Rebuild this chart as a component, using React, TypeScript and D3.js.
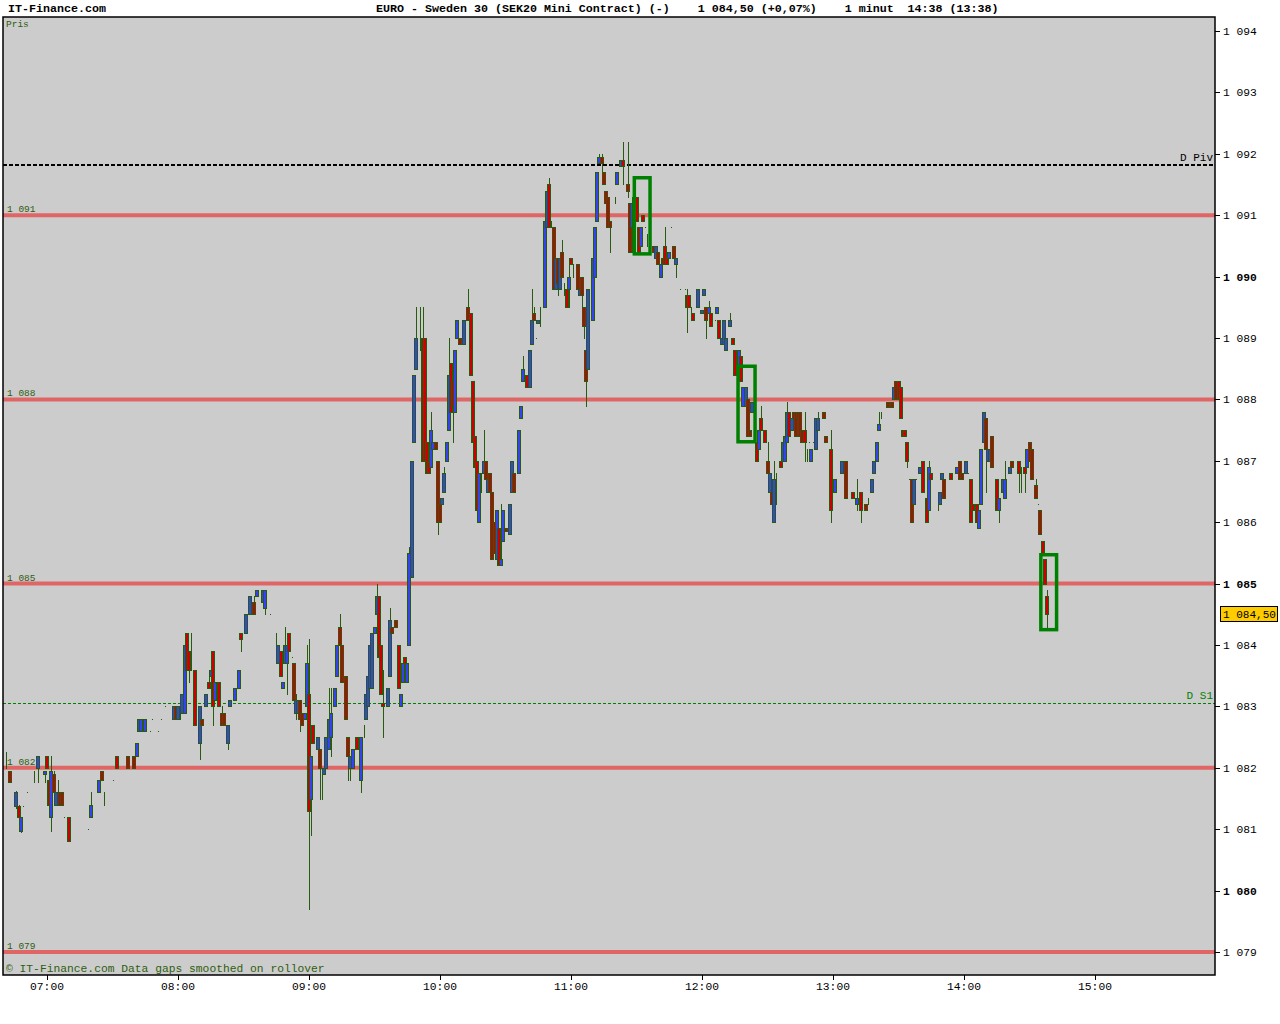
import React from 'react';
import * as d3 from 'd3';

// [minute after 07:00, open, high, low, close]
const candles: [number, number, number, number, number][] = [
  [-19, 1082.2, 1082.25, 1082.0, 1082.2], [-17, 1081.95, 1081.95, 1081.77, 1081.77],
  [-14, 1081.38, 1081.62, 1081.35, 1081.6], [-13, 1081.38, 1081.4, 1081.2, 1081.2],
  [-12, 1080.97, 1081.2, 1080.95, 1081.2], [-11, 1081.38, 1081.38, 1081.38, 1081.38],
  [-9, 1081.6, 1081.6, 1081.6, 1081.6], [-6, 1081.77, 1081.95, 1081.77, 1081.77],
  [-4, 1082.0, 1082.2, 1081.77, 1082.2], [-1, 1081.9, 1081.95, 1081.77, 1081.95],
  [0, 1082.2, 1082.2, 1082.0, 1082.0], [1, 1081.8, 1081.8, 1081.4, 1081.4],
  [2, 1081.2, 1082.2, 1080.97, 1081.95], [3, 1081.9, 1081.95, 1081.6, 1081.6],
  [4, 1081.4, 1081.6, 1081.4, 1081.6], [5, 1081.7, 1081.8, 1081.6, 1081.7],
  [6, 1081.6, 1081.6, 1081.4, 1081.4], [7, 1081.6, 1081.6, 1081.4, 1081.4],
  [8, 1081.2, 1081.2, 1081.2, 1081.2], [10, 1081.2, 1081.2, 1080.8, 1080.8],
  [19, 1081.0, 1081.0, 1081.0, 1081.0], [20, 1081.2, 1081.6, 1081.2, 1081.4],
  [24, 1081.6, 1081.8, 1081.6, 1081.8], [25, 1081.95, 1081.95, 1081.8, 1081.8],
  [26, 1081.5, 1081.6, 1081.4, 1081.5], [30, 1081.8, 1081.8, 1081.8, 1081.8],
  [32, 1082.2, 1082.2, 1082.0, 1082.0], [37, 1082.2, 1082.2, 1082.0, 1082.0],
  [40, 1082.2, 1082.2, 1082.0, 1082.0], [41, 1082.2, 1082.4, 1082.2, 1082.4],
  [42, 1082.6, 1082.8, 1082.6, 1082.8], [43, 1082.6, 1082.8, 1082.6, 1082.8],
  [45, 1082.6, 1082.8, 1082.6, 1082.8], [47, 1082.6, 1082.6, 1082.6, 1082.6],
  [48, 1082.8, 1082.8, 1082.8, 1082.8], [51, 1082.6, 1082.6, 1082.6, 1082.6],
  [52, 1082.8, 1082.8, 1082.8, 1082.8], [54, 1083.0, 1083.0, 1083.0, 1083.0],
  [58, 1082.8, 1083.0, 1082.8, 1083.0], [59, 1083.0, 1083.0, 1082.8, 1082.8],
  [60, 1082.8, 1083.0, 1082.8, 1083.0], [61, 1083.0, 1083.2, 1082.8, 1083.0],
  [62, 1082.9, 1083.2, 1082.9, 1083.2], [63, 1082.9, 1084.0, 1082.9, 1084.0],
  [64, 1084.2, 1084.2, 1083.6, 1083.6], [65, 1083.9, 1083.9, 1083.4, 1083.6],
  [66, 1083.9, 1084.2, 1083.6, 1083.9], [68, 1083.6, 1083.6, 1082.7, 1082.7],
  [69, 1082.6, 1082.7, 1082.4, 1082.6], [70, 1082.4, 1083.0, 1082.15, 1083.0],
  [71, 1082.8, 1082.8, 1082.7, 1082.7], [73, 1083.0, 1083.2, 1083.0, 1083.2],
  [74, 1083.4, 1083.5, 1083.3, 1083.3], [75, 1083.5, 1083.6, 1083.5, 1083.6],
  [76, 1083.9, 1083.9, 1082.7, 1083.0], [77, 1083.1, 1083.4, 1083.1, 1083.4],
  [79, 1083.4, 1083.4, 1083.0, 1083.0], [80, 1082.9, 1083.0, 1082.7, 1082.7],
  [81, 1082.9, 1082.9, 1082.7, 1082.7], [83, 1082.4, 1082.7, 1082.3, 1082.7],
  [84, 1083.0, 1083.1, 1083.0, 1083.1], [86, 1083.1, 1083.3, 1083.1, 1083.3],
  [88, 1083.3, 1083.6, 1083.3, 1083.6], [89, 1084.2, 1084.2, 1083.9, 1084.1],
  [91, 1084.2, 1084.5, 1084.2, 1084.5], [93, 1084.5, 1084.8, 1084.5, 1084.8],
  [95, 1084.7, 1084.8, 1084.5, 1084.5], [96, 1084.8, 1084.9, 1084.8, 1084.9],
  [99, 1084.7, 1084.9, 1084.7, 1084.9], [100, 1084.6, 1084.9, 1084.5, 1084.9],
  [102, 1084.5, 1084.5, 1084.5, 1084.5], [105, 1084.0, 1084.2, 1083.9, 1084.0],
  [106, 1083.7, 1084.0, 1083.7, 1084.0], [107, 1083.9, 1083.9, 1083.5, 1083.5],
  [108, 1083.3, 1083.4, 1083.3, 1083.4], [109, 1083.7, 1084.3, 1083.7, 1084.0],
  [110, 1083.7, 1084.0, 1083.2, 1084.0], [111, 1084.2, 1084.2, 1083.9, 1083.9],
  [112, 1083.8, 1083.8, 1083.8, 1083.8], [113, 1083.7, 1083.7, 1083.1, 1083.1],
  [114, 1082.9, 1083.2, 1082.8, 1083.1], [115, 1082.9, 1083.1, 1082.9, 1083.1],
  [116, 1083.1, 1083.1, 1082.6, 1082.8], [117, 1082.9, 1082.9, 1082.7, 1082.7],
  [118, 1082.8, 1082.9, 1082.8, 1082.9], [119, 1083.0, 1084.0, 1083.0, 1083.7],
  [120, 1083.2, 1084.1, 1079.7, 1081.3], [121, 1081.5, 1082.2, 1080.9, 1082.2],
  [122, 1082.7, 1082.7, 1082.4, 1082.4], [124, 1082.3, 1082.5, 1082.3, 1082.5],
  [125, 1082.3, 1082.3, 1081.5, 1082.0], [126, 1081.9, 1082.0, 1081.5, 1081.9],
  [127, 1081.9, 1082.0, 1081.9, 1082.0], [128, 1082.0, 1082.5, 1082.0, 1082.5],
  [129, 1082.3, 1083.3, 1082.3, 1082.8], [130, 1082.5, 1083.3, 1082.2, 1082.9],
  [132, 1083.0, 1083.3, 1083.0, 1083.3], [133, 1083.5, 1084.0, 1083.5, 1084.0],
  [134, 1084.3, 1084.5, 1084.0, 1084.0], [135, 1084.0, 1084.0, 1083.4, 1083.4],
  [137, 1083.5, 1083.5, 1082.8, 1082.8], [138, 1082.5, 1082.5, 1081.8, 1082.2],
  [139, 1082.0, 1082.2, 1081.8, 1082.2], [140, 1082.0, 1082.3, 1082.0, 1082.3],
  [142, 1082.5, 1082.5, 1082.3, 1082.3], [144, 1081.8, 1082.5, 1081.6, 1082.5],
  [145, 1082.6, 1082.7, 1082.5, 1082.6], [146, 1082.8, 1083.2, 1082.8, 1083.2],
  [147, 1083.0, 1083.5, 1083.0, 1083.5], [148, 1083.3, 1084.0, 1083.3, 1084.0],
  [149, 1083.3, 1084.2, 1083.3, 1084.2], [150, 1084.2, 1084.3, 1084.2, 1084.3],
  [151, 1084.5, 1085.0, 1084.5, 1084.8], [152, 1084.8, 1084.8, 1083.8, 1083.8],
  [153, 1084.0, 1084.0, 1083.2, 1083.2], [154, 1083.05, 1083.6, 1082.5, 1083.0],
  [156, 1083.0, 1083.3, 1083.0, 1083.3], [157, 1083.5, 1084.6, 1083.5, 1084.4],
  [158, 1084.3, 1084.3, 1084.2, 1084.2], [160, 1084.4, 1084.4, 1084.3, 1084.3],
  [161, 1084.0, 1084.0, 1083.3, 1083.3], [162, 1083.0, 1083.2, 1083.0, 1083.2],
  [163, 1083.4, 1083.7, 1083.4, 1083.7], [164, 1083.8, 1083.8, 1083.7, 1083.7],
  [165, 1083.4, 1083.7, 1083.4, 1083.7], [166, 1084.0, 1085.6, 1084.0, 1085.5],
  [167, 1085.1, 1087.0, 1085.1, 1087.0], [168, 1087.3, 1088.4, 1087.3, 1088.4],
  [169, 1088.5, 1089.5, 1088.5, 1089.0], [171, 1089.2, 1089.5, 1088.8, 1089.2],
  [172, 1089.0, 1089.5, 1087.0, 1087.0], [173, 1089.0, 1089.0, 1087.0, 1087.0],
  [174, 1087.3, 1087.3, 1086.8, 1086.8], [175, 1087.0, 1087.0, 1086.8, 1086.8],
  [176, 1086.9, 1087.8, 1086.9, 1087.5], [177, 1087.2, 1087.3, 1087.2, 1087.3],
  [178, 1087.3, 1087.3, 1087.2, 1087.2], [179, 1087.0, 1087.0, 1085.8, 1086.0],
  [180, 1086.3, 1086.3, 1086.0, 1086.0], [181, 1086.3, 1086.4, 1086.3, 1086.4],
  [182, 1086.5, 1086.9, 1086.5, 1086.8], [183, 1087.0, 1087.3, 1087.0, 1087.3],
  [184, 1087.5, 1089.0, 1087.5, 1088.4], [185, 1088.6, 1088.6, 1087.8, 1087.8],
  [186, 1088.3, 1088.3, 1087.3, 1087.9], [187, 1087.8, 1088.8, 1087.8, 1088.8],
  [188, 1089.0, 1089.3, 1089.0, 1089.3], [189, 1089.0, 1089.0, 1088.9, 1088.9],
  [191, 1088.9, 1089.3, 1088.9, 1089.3], [193, 1089.5, 1089.8, 1089.3, 1089.3],
  [194, 1089.4, 1089.4, 1088.4, 1088.4], [195, 1088.3, 1088.3, 1087.3, 1087.3],
  [196, 1087.4, 1087.4, 1086.6, 1086.9], [197, 1087.0, 1087.0, 1086.2, 1086.2],
  [198, 1086.0, 1086.8, 1086.0, 1086.8], [199, 1086.7, 1086.8, 1086.5, 1086.7],
  [200, 1086.8, 1087.5, 1086.8, 1087.0], [201, 1087.0, 1087.0, 1086.7, 1086.7],
  [202, 1086.5, 1086.7, 1086.5, 1086.7], [203, 1086.8, 1086.8, 1086.5, 1086.5],
  [204, 1086.5, 1086.5, 1085.4, 1085.4], [205, 1086.0, 1086.0, 1085.5, 1085.5],
  [206, 1085.4, 1086.2, 1085.4, 1086.2], [207, 1085.9, 1085.9, 1085.3, 1085.3],
  [208, 1085.3, 1086.3, 1085.3, 1085.4], [209, 1085.7, 1086.2, 1085.7, 1086.2],
  [210, 1085.9, 1085.9, 1085.85, 1085.85], [212, 1085.8, 1086.3, 1085.8, 1086.3],
  [213, 1086.5, 1087.0, 1086.5, 1087.0], [214, 1086.8, 1086.8, 1086.5, 1086.5],
  [216, 1086.8, 1087.5, 1086.8, 1087.5], [217, 1087.7, 1087.9, 1087.7, 1087.9],
  [218, 1088.3, 1088.7, 1088.3, 1088.5], [220, 1088.4, 1088.4, 1088.2, 1088.2],
  [221, 1088.2, 1088.8, 1088.2, 1088.8], [222, 1088.9, 1089.8, 1088.9, 1089.3],
  [223, 1089.4, 1089.5, 1089.3, 1089.3], [224, 1089.0, 1089.0, 1089.0, 1089.0],
  [225, 1089.25, 1089.3, 1089.25, 1089.3], [226, 1089.3, 1089.5, 1089.2, 1089.3],
  [228, 1089.5, 1090.9, 1089.5, 1090.9], [229, 1090.8, 1091.4, 1090.8, 1091.4],
  [230, 1091.5, 1091.6, 1090.8, 1090.8], [231, 1090.85, 1090.9, 1090.8, 1090.85],
  [232, 1090.8, 1090.8, 1089.8, 1089.8], [233, 1089.8, 1090.3, 1089.8, 1090.3],
  [234, 1090.3, 1090.3, 1089.7, 1089.9], [235, 1089.8, 1090.3, 1089.8, 1090.3],
  [236, 1090.4, 1090.6, 1090.0, 1090.0], [237, 1089.8, 1089.9, 1089.7, 1089.8],
  [238, 1089.8, 1089.8, 1089.5, 1089.5], [239, 1089.8, 1090.2, 1089.5, 1090.0],
  [240, 1090.3, 1090.3, 1090.2, 1090.2], [241, 1090.1, 1090.2, 1090.0, 1090.1],
  [243, 1090.2, 1090.2, 1089.8, 1089.8], [244, 1089.7, 1089.8, 1089.7, 1089.8],
  [245, 1090.0, 1090.0, 1089.5, 1089.7], [246, 1089.5, 1089.5, 1089.0, 1089.2],
  [247, 1088.8, 1088.8, 1087.9, 1088.3], [248, 1088.5, 1089.8, 1088.5, 1089.8],
  [250, 1089.3, 1090.3, 1089.3, 1090.3], [251, 1090.0, 1090.8, 1090.0, 1090.8],
  [252, 1090.9, 1091.7, 1090.9, 1091.7], [253, 1091.85, 1092.0, 1091.85, 1091.95],
  [254, 1091.95, 1092.0, 1091.5, 1091.85], [255, 1091.7, 1091.7, 1091.5, 1091.5],
  [256, 1091.4, 1091.4, 1091.2, 1091.2], [257, 1091.3, 1091.3, 1090.8, 1090.8],
  [258, 1090.9, 1090.9, 1090.4, 1090.8], [260, 1091.3, 1091.3, 1091.2, 1091.3],
  [261, 1091.5, 1091.7, 1091.5, 1091.7], [263, 1091.8, 1091.9, 1091.8, 1091.9],
  [264, 1091.9, 1092.2, 1091.5, 1091.8], [266, 1091.5, 1092.2, 1091.3, 1091.4],
  [267, 1091.2, 1091.2, 1090.4, 1090.4], [268, 1090.8, 1091.2, 1090.8, 1091.2],
  [269, 1090.4, 1091.3, 1090.4, 1091.3], [270, 1091.3, 1091.3, 1090.9, 1090.9],
  [271, 1090.8, 1090.8, 1090.4, 1090.4], [272, 1090.5, 1090.8, 1090.5, 1090.8],
  [273, 1091.0, 1091.0, 1090.9, 1090.9], [274, 1090.8, 1090.8, 1090.8, 1090.8],
  [275, 1090.6, 1090.7, 1090.5, 1090.6], [278, 1090.5, 1090.5, 1090.4, 1090.4],
  [279, 1090.3, 1090.5, 1090.3, 1090.5], [280, 1090.4, 1090.4, 1090.2, 1090.2],
  [281, 1090.0, 1090.2, 1090.0, 1090.2], [282, 1090.3, 1090.3, 1090.2, 1090.2],
  [283, 1090.5, 1090.8, 1090.2, 1090.2], [284, 1090.3, 1090.3, 1090.2, 1090.2],
  [285, 1090.3, 1090.4, 1090.3, 1090.4], [286, 1090.8, 1090.8, 1090.8, 1090.8],
  [287, 1090.5, 1090.5, 1090.3, 1090.3], [288, 1090.2, 1090.3, 1090.0, 1090.3],
  [290, 1089.8, 1089.8, 1089.8, 1089.8], [292, 1089.8, 1089.8, 1089.8, 1089.8],
  [293, 1089.7, 1089.8, 1089.1, 1089.5], [294, 1089.7, 1089.7, 1089.5, 1089.5],
  [295, 1089.4, 1089.5, 1089.3, 1089.4], [296, 1089.4, 1089.4, 1089.3, 1089.3],
  [298, 1089.5, 1089.8, 1089.5, 1089.8], [300, 1089.4, 1089.45, 1089.4, 1089.45],
  [301, 1089.7, 1089.8, 1089.7, 1089.8], [302, 1089.5, 1089.5, 1089.0, 1089.3],
  [303, 1089.4, 1089.6, 1089.4, 1089.5], [304, 1089.4, 1089.4, 1089.2, 1089.2],
  [306, 1089.3, 1089.3, 1089.3, 1089.3], [307, 1089.4, 1089.5, 1089.4, 1089.5],
  [308, 1089.3, 1089.3, 1089.0, 1089.0], [309, 1088.9, 1089.0, 1088.9, 1089.0],
  [310, 1088.9, 1089.3, 1088.9, 1089.3], [311, 1088.8, 1089.0, 1088.8, 1089.0],
  [313, 1089.2, 1089.4, 1089.2, 1089.3], [314, 1089.0, 1089.0, 1088.9, 1088.9],
  [315, 1088.8, 1088.8, 1088.4, 1088.4], [317, 1088.3, 1088.8, 1088.3, 1088.8],
  [318, 1088.7, 1088.7, 1088.3, 1088.3], [319, 1087.9, 1088.2, 1087.9, 1088.2],
  [320, 1087.9, 1088.2, 1087.9, 1088.2], [321, 1088.0, 1088.0, 1087.4, 1087.4],
  [322, 1087.5, 1087.5, 1087.4, 1087.4], [323, 1087.8, 1087.95, 1087.8, 1087.95],
  [325, 1087.3, 1087.3, 1087.0, 1087.0], [326, 1087.2, 1087.5, 1087.2, 1087.5],
  [327, 1087.7, 1087.9, 1087.5, 1087.5], [328, 1087.3, 1087.3, 1087.3, 1087.3],
  [329, 1087.5, 1087.5, 1087.3, 1087.3], [330, 1087.0, 1087.3, 1086.8, 1086.8],
  [331, 1086.5, 1086.8, 1086.5, 1086.8], [332, 1086.5, 1086.5, 1086.3, 1086.3],
  [333, 1086.0, 1087.0, 1086.0, 1086.7], [334, 1086.5, 1086.8, 1086.3, 1086.5],
  [336, 1087.0, 1087.0, 1086.9, 1086.9], [337, 1087.0, 1087.3, 1087.0, 1087.3],
  [338, 1087.0, 1087.4, 1087.0, 1087.4], [339, 1087.3, 1087.95, 1087.3, 1087.8],
  [340, 1087.8, 1087.8, 1087.4, 1087.4], [341, 1087.5, 1087.7, 1087.5, 1087.7],
  [342, 1087.8, 1087.8, 1087.7, 1087.7], [343, 1087.8, 1087.8, 1087.4, 1087.4],
  [344, 1087.8, 1087.8, 1087.7, 1087.7], [345, 1087.8, 1087.8, 1087.4, 1087.4],
  [346, 1087.5, 1087.5, 1087.3, 1087.3], [347, 1087.5, 1087.8, 1087.0, 1087.3],
  [348, 1087.1, 1087.2, 1087.0, 1087.1], [349, 1087.3, 1087.3, 1087.3, 1087.3],
  [350, 1087.0, 1087.2, 1087.0, 1087.2], [351, 1087.3, 1087.3, 1087.3, 1087.3],
  [352, 1087.2, 1087.7, 1087.2, 1087.7], [353, 1087.5, 1087.8, 1087.5, 1087.7],
  [355, 1087.75, 1087.8, 1087.7, 1087.75], [356, 1087.8, 1087.8, 1087.7, 1087.7],
  [357, 1087.4, 1087.4, 1087.3, 1087.3], [359, 1087.2, 1087.5, 1086.0, 1086.2],
  [361, 1086.5, 1086.7, 1086.5, 1086.7], [364, 1086.8, 1087.0, 1086.8, 1087.0],
  [366, 1087.0, 1087.0, 1086.4, 1086.4], [369, 1086.5, 1086.5, 1086.4, 1086.4],
  [371, 1086.3, 1086.7, 1086.2, 1086.4], [373, 1086.5, 1086.5, 1086.0, 1086.2],
  [375, 1086.3, 1086.3, 1086.2, 1086.2], [376, 1086.35, 1086.4, 1086.3, 1086.35],
  [378, 1086.5, 1086.7, 1086.5, 1086.7], [379, 1086.8, 1087.0, 1086.8, 1087.0],
  [380, 1087.0, 1087.3, 1087.0, 1087.3], [381, 1087.5, 1087.8, 1087.5, 1087.6],
  [382, 1087.75, 1087.8, 1087.7, 1087.75], [385, 1087.95, 1087.95, 1087.88, 1087.88],
  [387, 1087.95, 1087.95, 1087.88, 1087.88], [388, 1088.0, 1088.2, 1088.0, 1088.2],
  [389, 1088.3, 1088.3, 1088.0, 1088.0], [390, 1088.3, 1088.3, 1088.0, 1088.0],
  [391, 1088.2, 1088.2, 1087.7, 1087.7], [392, 1087.5, 1087.5, 1087.4, 1087.4],
  [393, 1087.5, 1087.5, 1087.4, 1087.4], [394, 1087.3, 1087.3, 1086.9, 1087.0],
  [395, 1086.7, 1086.7, 1086.7, 1086.7], [396, 1086.7, 1086.7, 1086.0, 1086.0],
  [397, 1086.3, 1086.7, 1086.3, 1086.7], [398, 1086.7, 1086.7, 1086.7, 1086.7],
  [400, 1086.8, 1086.9, 1086.8, 1086.9], [401, 1087.0, 1087.0, 1086.5, 1086.5],
  [403, 1086.4, 1086.4, 1086.0, 1086.0], [404, 1086.2, 1087.0, 1086.2, 1086.9],
  [405, 1086.8, 1086.8, 1086.7, 1086.7], [408, 1086.4, 1086.5, 1086.2, 1086.4],
  [409, 1086.3, 1086.5, 1086.3, 1086.5], [410, 1086.7, 1086.8, 1086.7, 1086.8],
  [411, 1086.7, 1086.7, 1086.4, 1086.4], [414, 1086.8, 1086.8, 1086.7, 1086.7],
  [417, 1086.8, 1086.9, 1086.8, 1086.9], [418, 1087.0, 1087.0, 1086.7, 1086.7],
  [419, 1086.8, 1086.8, 1086.7, 1086.7], [421, 1086.8, 1087.0, 1086.8, 1087.0],
  [422, 1086.8, 1086.8, 1086.8, 1086.8], [423, 1086.7, 1086.7, 1086.0, 1086.0],
  [424, 1086.3, 1086.3, 1086.2, 1086.2], [426, 1086.3, 1086.3, 1086.0, 1086.0],
  [427, 1085.9, 1086.2, 1085.9, 1086.2], [428, 1086.3, 1087.2, 1086.3, 1087.2],
  [429, 1087.3, 1087.8, 1087.3, 1087.8], [430, 1087.7, 1087.7, 1086.5, 1087.2],
  [431, 1087.0, 1087.2, 1087.0, 1087.2], [432, 1087.0, 1087.4, 1087.0, 1087.2],
  [433, 1087.4, 1087.4, 1086.9, 1086.9], [435, 1086.7, 1086.7, 1086.2, 1086.2],
  [436, 1086.2, 1086.4, 1086.0, 1086.4], [438, 1086.5, 1086.7, 1086.4, 1086.7],
  [439, 1086.4, 1087.0, 1086.4, 1086.7], [441, 1086.8, 1086.9, 1086.8, 1086.9],
  [442, 1087.0, 1087.0, 1086.9, 1086.9], [445, 1087.0, 1087.0, 1086.5, 1086.8],
  [446, 1086.8, 1086.9, 1086.5, 1086.8], [448, 1086.9, 1086.9, 1086.5, 1086.8],
  [449, 1086.9, 1087.2, 1086.9, 1087.2], [450, 1087.3, 1087.3, 1087.0, 1087.0],
  [451, 1087.2, 1087.2, 1086.7, 1086.7], [453, 1086.6, 1086.7, 1086.4, 1086.4],
  [454, 1086.3, 1086.3, 1086.3, 1086.3], [455, 1086.2, 1086.2, 1085.8, 1085.8],
  [456, 1085.7, 1085.7, 1085.5, 1085.5], [457, 1085.4, 1085.4, 1085.0, 1085.0],
  [458, 1084.8, 1084.9, 1084.25, 1084.5],
];

const levelLines = [1091, 1088, 1085, 1082, 1079];
const priceTicks = [1094, 1093, 1092, 1091, 1090, 1089, 1088, 1087, 1086, 1085, 1084, 1083, 1082, 1081, 1080, 1079];
const boldTicks = [1090, 1085, 1080];
const hourLabels = ['07:00', '08:00', '09:00', '10:00', '11:00', '12:00', '13:00', '14:00', '15:00'];
const hourMinutes = [0, 60, 120, 180, 240, 300, 360, 420, 480];
const pivotLevel = 1091.83;
const s1Level = 1083.06;
const boxStart = [269, 316.5, 455.2];
const boxEnd = [276.2, 324.3, 462.4];
const boxHigh = [1091.61, 1088.54, 1085.47];
const boxLow = [1090.37, 1087.31, 1084.25];
const lastPrice = 1084.5;
const titleText = 'EURO - Sweden 30 (SEK20 Mini Contract) (-)    1 084,50 (+0,07%)    1 minut  14:38 (13:38)';

const locale = d3.formatLocale({ decimal: ',', thousands: ' ', grouping: [3], currency: ['', ''] });
const fmtInt = locale.format(',.0f');
const fmtPrice = locale.format(',.2f');

const MONO = '"Liberation Mono", "DejaVu Sans Mono", monospace';
const DKGREEN = '#2e5e10';
const CANDLE_EDGE = '#285a10';

export default function App() {
  const plotL = 3, plotR = 1215, plotT = 17, plotB = 975;
  const x = d3.scaleLinear().domain([0, 480]).range([47, 1095]);
  const y = d3.scaleLinear().domain([1079, 1094]).range([952, 31]);

  return (
    <svg width={1280} height={1024} style={{ position: 'absolute', left: 0, top: 0, background: '#fff' }}
      fontFamily={MONO}>
      <rect x={0} y={0} width={1280} height={1024} fill="#ffffff" />
      <text x={8} y={12} fontSize={11.67} fontWeight="bold" fill="#000">IT-Finance.com</text>
      <text x={376} y={12} fontSize={11.67} fontWeight="bold" fill="#000" style={{ whiteSpace: 'pre' }}>{titleText}</text>

      <rect x={plotL} y={plotT} width={plotR - plotL} height={plotB - plotT} fill="#cccccc" />

      {levelLines.map((lv) => (
        <g key={'lv' + lv}>
          <line x1={plotL} x2={plotR} y1={y(lv)} y2={y(lv)} stroke="#e06666" strokeWidth={4} />
          <text x={7} y={y(lv) - 3} fontSize={9.5} fill={DKGREEN}>{fmtInt(lv)}</text>
        </g>
      ))}

      <line x1={plotL} x2={plotR} y1={Math.round(y(pivotLevel)) + 0.5} y2={Math.round(y(pivotLevel)) + 0.5}
        stroke="#000" strokeWidth={2} strokeDasharray="4,2" shapeRendering="crispEdges" />
      <text x={1213} y={161} fontSize={11} fill="#000" textAnchor="end">D Piv</text>
      <line x1={plotL} x2={plotR} y1={Math.round(y(s1Level)) + 0.5} y2={Math.round(y(s1Level)) + 0.5}
        stroke="#008000" strokeWidth={1} strokeDasharray="3,2" shapeRendering="crispEdges" />
      <text x={1213} y={699} fontSize={11} fill="#008000" textAnchor="end">D S1</text>

      <g shapeRendering="crispEdges">
        {candles.map(([m, o, h, l, c]) => {
          const cx = Math.round(x(m));
          const top = Math.round(y(Math.max(o, c)));
          const bot = Math.round(y(Math.min(o, c)));
          const fill = c > o ? '#3344ee' : c < o ? '#cc0000' : 'none';
          return (
            <g key={'c' + m}>
              <line x1={cx + 0.5} x2={cx + 0.5} y1={Math.round(y(h))} y2={Math.round(y(l)) + 1}
                stroke={CANDLE_EDGE} strokeWidth={1} />
              <rect x={cx - 1.5} y={top + 0.5} width={3} height={Math.max(bot - top, 0)}
                fill={fill} stroke={CANDLE_EDGE} strokeWidth={1} />
            </g>
          );
        })}
      </g>

      {boxStart.map((s, i) => (
        <rect key={'b' + i} x={x(s)} y={y(boxHigh[i])} width={x(boxEnd[i]) - x(s)}
          height={y(boxLow[i]) - y(boxHigh[i])} fill="none" stroke="#008000" strokeWidth={3.5} />
      ))}

      <text x={6} y={27} fontSize={9.5} fill={DKGREEN}>Pris</text>
      <text x={6} y={972} fontSize={11.3} fill={DKGREEN}>© IT-Finance.com Data gaps smoothed on rollover</text>

      <rect x={plotL} y={plotT} width={plotR - plotL} height={plotB - plotT} fill="none" stroke="#000" strokeWidth={1.5} />

      {priceTicks.map((p) => (
        <g key={'t' + p}>
          <line x1={plotR} x2={plotR + 5} y1={Math.round(y(p)) + 0.5} y2={Math.round(y(p)) + 0.5} stroke="#000" strokeWidth={1} />
          <text x={1223} y={y(p) + 4} fontSize={11.3} fontWeight={boldTicks.includes(p) ? 'bold' : 'normal'} fill="#000">{fmtInt(p)}</text>
        </g>
      ))}

      <rect x={1220.5} y={Math.round(y(lastPrice)) - 7.5} width={57} height={15} fill="#ffcc00" stroke="#000" strokeWidth={1} />
      <text x={1223} y={y(lastPrice) + 4} fontSize={11} textLength={53} lengthAdjust="spacingAndGlyphs" fill="#000">{fmtPrice(lastPrice)}</text>

      {hourMinutes.map((m, i) => (
        <g key={'h' + m}>
          <line x1={Math.round(x(m)) + 0.5} x2={Math.round(x(m)) + 0.5} y1={plotB} y2={plotB + 5} stroke="#000" strokeWidth={1} />
          <text x={x(m)} y={990} fontSize={11.3} textAnchor="middle" fill="#000">{hourLabels[i]}</text>
        </g>
      ))}
    </svg>
  );
}
